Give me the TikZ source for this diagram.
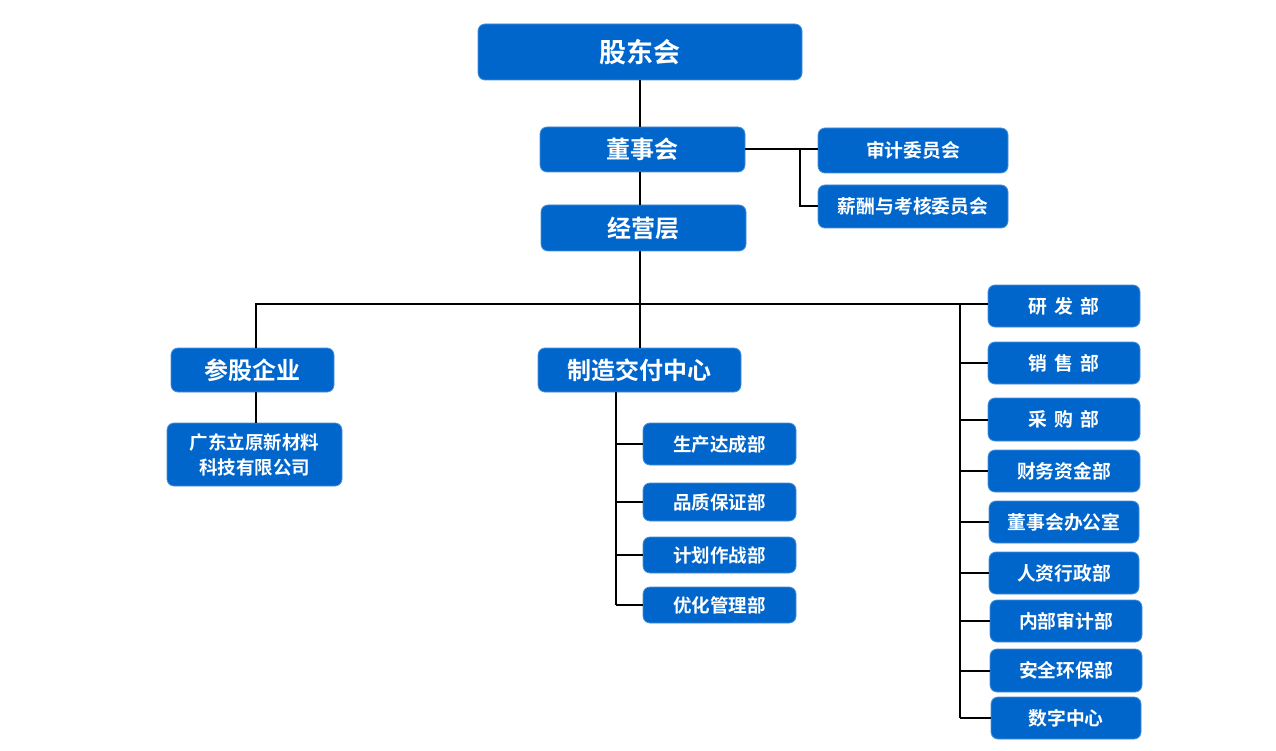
\documentclass[tikz,border=0pt]{standalone}
\usepackage{fontspec}
\newfontfamily\cjk{Noto Sans CJK SC}[BoldFont={* Bold}]
\definecolor{boxblue}{HTML}{0066CC}
\definecolor{boxedge}{HTML}{4A90D9}
\begin{document}
\begin{tikzpicture}[x=1pt,y=-1pt,
  box/.style={rectangle, rounded corners=7pt, fill=boxblue, draw=boxedge, line width=0.8pt,
    text=white, font=\cjk\bfseries, inner sep=0pt, align=center},
  fa/.style={font=\cjk\bfseries\fontsize{27}{31}\selectfont},
  fb/.style={font=\cjk\bfseries\fontsize{24}{28}\selectfont},
  fc/.style={font=\cjk\bfseries\fontsize{18.8}{22}\selectfont},
  fd/.style={font=\cjk\bfseries\fontsize{18.5}{25}\selectfont},
  conn/.style={draw=black, line width=2pt}]
\useasboundingbox (0,0) rectangle (1276,751);
\fill[white] (0,0) rectangle (1276,751);
% top chain
\node[box,fa,minimum width=324pt,minimum height=56pt] (gd) at (640,52) {股东会};
\node[box,fb,minimum width=205pt,minimum height=45pt] (dsh) at (642.5,149.5) {董事会};
\node[box,fb,minimum width=205pt,minimum height=46pt] (jyc) at (643.5,228) {经营层};
\node[box,fc,minimum width=190pt,minimum height=45pt] (sj) at (913,150.5) {审计委员会};
\node[box,fc,minimum width=190pt,minimum height=43pt] (xc) at (913,206.5) {薪酬与考核委员会};
% left
\node[box,fb,minimum width=163pt,minimum height=44pt] (cg) at (252.5,370) {参股企业};
\node[box,fd,minimum width=175pt,minimum height=63pt] (gd2) at (254.5,454.5) {广东立原新材料\\科技有限公司};
% middle
\node[box,fb,minimum width=203pt,minimum height=44pt] (zz) at (639.5,370) {制造交付中心};
\node[box,fd,minimum width=153pt,minimum height=42pt] (sc) at (719.5,444) {生产达成部};
\node[box,fd,minimum width=153pt,minimum height=38pt] (pz) at (719.5,502) {品质保证部};
\node[box,fd,minimum width=153pt,minimum height=36pt] (jh) at (719.5,555) {计划作战部};
\node[box,fd,minimum width=153pt,minimum height=36pt] (yh) at (719.5,605) {优化管理部};
% right column
\node[box,fc,minimum width=152pt,minimum height=42pt] (yf) at (1064,306) {研\hspace{7pt}发\hspace{7pt}部};
\node[box,fc,minimum width=152pt,minimum height=42pt] (xs) at (1064,363) {销\hspace{7pt}售\hspace{7pt}部};
\node[box,fc,minimum width=152pt,minimum height=43pt] (cgb) at (1064,419.5) {采\hspace{7pt}购\hspace{7pt}部};
\node[box,fc,minimum width=152pt,minimum height=42pt] (cw) at (1064,471) {财务资金部};
\node[box,fc,minimum width=150pt,minimum height=42pt] (dsb) at (1064,522) {董事会办公室};
\node[box,fc,minimum width=150pt,minimum height=42pt] (rz) at (1064,573) {人资行政部};
\node[box,fc,minimum width=152pt,minimum height=42pt] (nb) at (1066,621) {内部审计部};
\node[box,fc,minimum width=152pt,minimum height=43pt] (aq) at (1066,670.5) {安全环保部};
\node[box,fc,minimum width=150pt,minimum height=42pt] (sz) at (1066,718) {数字中心};
% helper coordinates
\coordinate (T) at (640,304);
\coordinate (L) at (256,304);
\coordinate (R) at (960,304);
\coordinate (B) at (800,149.5);
\coordinate (M) at (616,392);
% connectors
\draw[conn] (gd.south -| T) -- (dsh.north -| T);
\draw[conn] (dsh.south -| T) -- (jyc.north -| T);
\draw[conn] (jyc.south -| T) -- (zz.north -| T);
\draw[conn] (dsh.east) -- (sj.west |- dsh.east);
\draw[conn] (B) -- (B |- xc.west) -- (xc.west);
\draw[conn] (L |- cg.north) -- (L) -- (yf.west |- L);
\draw[conn] (L |- cg.south) -- (L |- gd2.north);
\draw[conn] (R) -- (R |- sz.west);
\foreach \n in {xs,cgb,cw,dsb,rz,nb,aq,sz} \draw[conn] (R |- \n.west) -- (\n.west);
\draw[conn] (M) -- (M |- yh.west);
\foreach \n in {sc,pz,jh,yh} \draw[conn] (M |- \n.west) -- (\n.west);
\end{tikzpicture}
\end{document}
